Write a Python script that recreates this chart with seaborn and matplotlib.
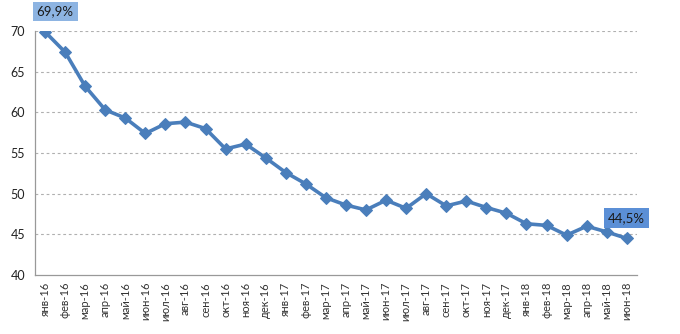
import matplotlib
matplotlib.use("Agg")
import matplotlib.pyplot as plt
import seaborn as sns
import pandas as pd

months = ["янв-16", "фев-16", "мар-16", "апр-16", "май-16", "июн-16", "июл-16", "авг-16",
          "сен-16", "окт-16", "ноя-16", "дек-16", "янв-17", "фев-17", "мар-17", "апр-17",
          "май-17", "июн-17", "июл-17", "авг-17", "сен-17", "окт-17", "ноя-17", "дек-17",
          "янв-18", "фев-18", "мар-18", "апр-18", "май-18", "июн-18"]
values = [69.9, 67.4, 63.2, 60.3, 59.3, 57.4, 58.6, 58.8, 58.0, 55.5, 56.1, 54.4,
          52.6, 51.2, 49.5, 48.6, 48.0, 49.2, 48.2, 50.0, 48.5, 49.1, 48.3, 47.6,
          46.3, 46.1, 44.9, 46.0, 45.3, 44.5]
y_ticks = [40, 45, 50, 55, 60, 65, 70]
first_label = "69,9%"
last_label = "44,5%"

sns.set_style("white")
plt.rcParams['font.family'] = ['Lato', 'DejaVu Sans']

df = pd.DataFrame({"idx": range(len(months)), "month": months, "value": values})

fig = plt.figure(figsize=(6.8, 3.34), dpi=100)
ax = fig.add_axes([0.0515, 0.1766, 0.885, 0.7306])

color = "#4A7EBB"
sns.lineplot(data=df, x="idx", y="value", ax=ax, color=color, linewidth=2.6,
             marker="D", markersize=6.5, markeredgecolor=color, markerfacecolor=color)

ax.set_xlim(-0.5, len(months) - 0.5)
ax.set_ylim(40, 70)
ax.set_yticks(y_ticks)
ax.set_yticklabels([str(t) for t in y_ticks], fontsize=9, color="#222222")
ax.set_xticks(range(len(months)))
ax.set_xticklabels(months, rotation=90, fontsize=8, color="#333333")
ax.set_xlabel("")
ax.set_ylabel("")

# minor ticks at category boundaries
ax.set_xticks([i - 0.5 for i in range(len(months) + 1)], minor=True)
ax.tick_params(axis="x", which="major", length=0, pad=5)
ax.tick_params(axis="x", which="minor", length=4, color="#999999", width=0.8, direction="out")
ax.tick_params(axis="y", length=4, color="#999999", width=0.8, direction="out", pad=3)

for y in y_ticks[1:]:
    ax.axhline(y, color="#B0B0B0", linestyle=(0, (2.5, 2.5)), linewidth=0.8, zorder=0)

for s in ["top", "right"]:
    ax.spines[s].set_visible(False)
for s in ["left", "bottom"]:
    ax.spines[s].set_color("#999999")
    ax.spines[s].set_linewidth(0.9)

ax.annotate(first_label, xy=(0, values[0]), xytext=(0.5, 72.4), textcoords="data",
            ha="center", va="center", fontsize=9.5, color="#1a1a1a",
            bbox=dict(boxstyle="square,pad=0.3", fc="#8DB4E2", ec="none"),
            annotation_clip=False)
ax.annotate(last_label, xy=(len(values) - 1, values[-1]), xytext=(len(values) - 1, 47.0),
            textcoords="data", ha="center", va="center", fontsize=9.5, color="#1a1a1a",
            bbox=dict(boxstyle="square,pad=0.3", fc="#5B8FD6", ec="none"),
            annotation_clip=False)

fig.savefig("out.png", dpi=100)
